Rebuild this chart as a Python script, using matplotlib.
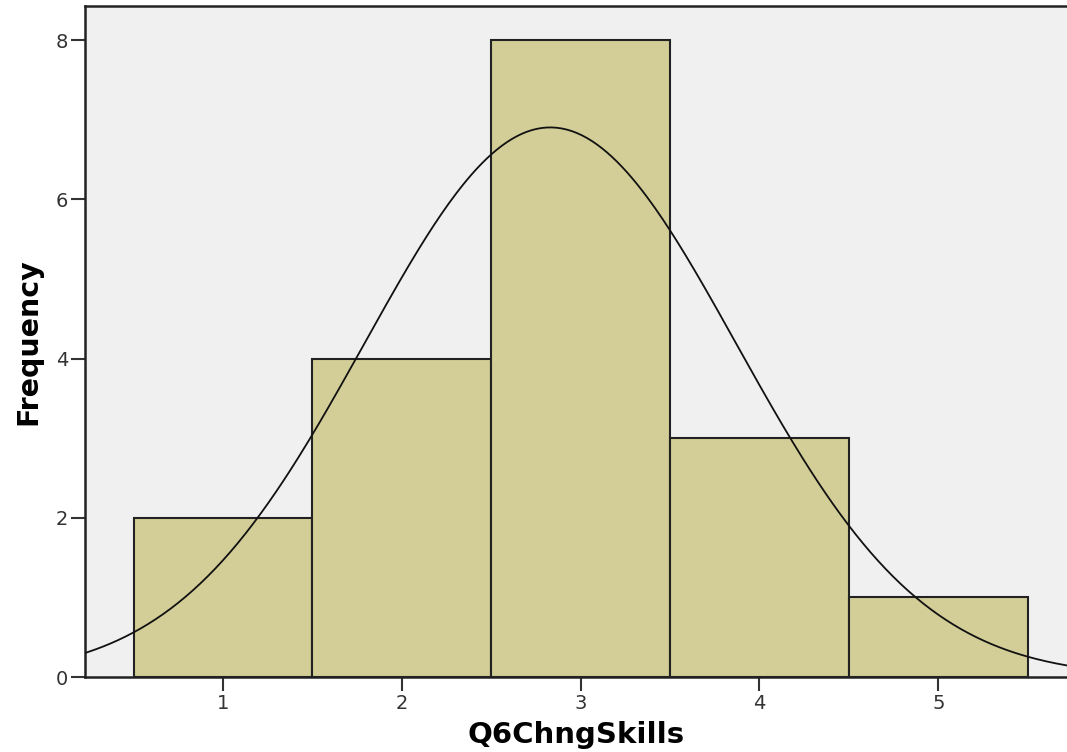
import numpy as np
import matplotlib.pyplot as plt

plt.rcParams['font.family'] = ['DejaVu Sans']

# histogram of Q6ChngSkills
bin_centers = [1, 2, 3, 4, 5]
counts = [2, 4, 8, 3, 1]
n = 18
mean = 2.83
sd = 1.04

fig = plt.figure(figsize=(10.67, 7.52), dpi=100)
ax = fig.add_axes([0.0797, 0.0997, 0.9203, 0.8923])
ax.set_facecolor('#f0f0f0')

ax.bar(bin_centers, counts, width=1.0, color='#d3ce97', edgecolor='#222222', linewidth=1.5, zorder=2)

# normal curve scaled to the counts
xs = np.linspace(0.2, 5.8, 400)
ys = n * 1.0 / (sd * np.sqrt(2 * np.pi)) * np.exp(-0.5 * ((xs - mean) / sd) ** 2)
ax.plot(xs, ys, color='#111111', linewidth=1.3, zorder=3)

ax.set_xlim(0.228, 5.72)
ax.set_ylim(0, 8.43)
ax.set_xticks(bin_centers)
ax.set_yticks([0, 2, 4, 6, 8])
ax.tick_params(axis='both', direction='out', length=10, width=1.5, color='#333333',
               labelsize=14, labelcolor='#333333', pad=2)

for side in ['left', 'top', 'bottom']:
    ax.spines[side].set_linewidth(1.8)
    ax.spines[side].set_color('#222222')
ax.spines['right'].set_visible(False)

ax.set_xlabel('Q6ChngSkills', fontsize=21, fontweight='bold', labelpad=6)
ax.set_ylabel('Frequency', fontsize=20.5, fontweight='bold', labelpad=10)

fig.savefig('out.png', dpi=100)
